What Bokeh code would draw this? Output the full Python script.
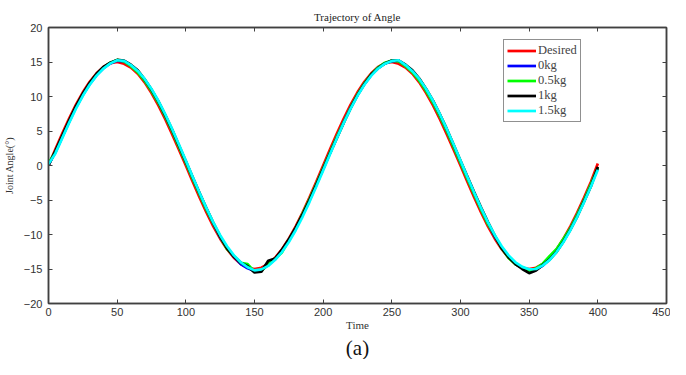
from bokeh.plotting import figure
from bokeh.models import (Range1d, LinearAxis, SingleIntervalTicker, Legend, LegendItem, Title)
from bokeh.embed import file_html
from bokeh.resources import INLINE

time = list(range(0, 401, 5))

desired = [0, 2.35, 4.64, 6.81, 8.82, 10.61, 12.14, 13.37, 14.27, 14.82,
           15.0, 14.75, 14.2, 13.3, 12.05, 10.5, 8.7, 6.7, 4.55, 2.3,
           0, -2.35, -4.64, -6.81, -8.82, -10.61, -12.14, -13.37, -14.27, -14.82,
           -15.0, -14.82, -14.27, -13.37, -12.14, -10.61, -8.82, -6.81, -4.64, -2.35,
           0,
           2.35, 4.64, 6.81, 8.82, 10.61, 12.14, 13.37, 14.27, 14.82, 15.0,
           14.75, 14.2, 13.3, 12.05, 10.5, 8.7, 6.7, 4.55, 2.3, 0,
           -2.35, -4.64, -6.81, -8.82, -10.61, -12.14, -13.37, -14.27, -14.82, -15.0,
           -14.82, -14.27, -13.37, -12.14, -10.61, -8.82, -6.81, -4.64, -2.35, 0.3]

load_0kg = [0.1, 1.9, 4.1, 6.3, 8.4, 10.2, 11.8, 13.1, 14.1, 14.8,
            15.2, 15.1, 14.5, 13.6, 12.4, 10.9, 9.2, 7.2, 5.1, 2.8,
            0.5, -1.8, -4.1, -6.3, -8.4, -10.4, -11.9, -13.2, -14.3, -14.9,
            -15.3, -15.2, -14.4, -13.6, -12.4, -10.9, -9.2, -7.2, -5.1, -2.8,
            -0.5,
            1.8, 4.1, 6.3, 8.4, 10.2, 11.8, 13.1, 14.1, 14.8, 15.1,
            15.2, 14.5, 13.6, 12.4, 10.9, 9.2, 7.2, 5.1, 2.8, 0.5,
            -1.8, -4.1, -6.3, -8.4, -10.3, -11.9, -13.2, -14.2, -14.8, -15.2,
            -15.1, -14.5, -13.6, -12.4, -10.9, -9.2, -7.2, -5.1, -2.8, -0.4]

load_05kg = [0.3, 2.0, 4.2, 6.4, 8.5, 10.3, 11.9, 13.2, 14.2, 14.9,
             15.3, 15.1, 14.4, 13.5, 12.3, 10.8, 9.1, 7.1, 5.0, 2.7,
             0.4, -1.9, -4.2, -6.4, -8.4, -10.3, -12.1, -13.1, -14.1, -14.3,
             -15.4, -15.3, -14.3, -13.5, -12.6, -10.8, -9.1, -7.0, -4.9, -2.7,
             -0.4,
             1.9, 4.2, 6.3, 8.4, 10.3, 11.9, 13.2, 14.2, 14.9, 15.2,
             15.1, 14.4, 13.5, 12.3, 10.8, 9.1, 7.1, 5.0, 2.7, 0.4,
             -1.9, -4.2, -6.4, -8.5, -10.2, -12.0, -13.4, -14.3, -14.8, -15.4,
             -14.9, -14.2, -13.1, -12.1, -10.6, -9.1, -7.1, -5.0, -2.7, -0.3]

load_1kg = [0.0, 2.1, 4.3, 6.5, 8.6, 10.4, 12.0, 13.3, 14.3, 14.9,
            15.3, 15.2, 14.6, 13.8, 12.5, 11.0, 9.3, 7.3, 5.2, 2.9,
            0.6, -1.7, -4.0, -6.2, -8.3, -10.3, -12.0, -13.2, -14.1, -14.6,
            -15.5, -15.4, -13.8, -13.5, -12.2, -10.7, -9.0, -7.1, -5.0, -2.8,
            -0.5,
            1.8, 4.0, 6.2, 8.3, 10.2, 11.8, 13.2, 14.1, 14.8, 15.2,
            15.2, 14.6, 13.8, 12.6, 11.1, 9.4, 7.4, 5.3, 3.0, 0.7,
            -1.6, -3.9, -6.1, -8.2, -10.2, -12.0, -13.3, -14.3, -15.0, -15.6,
            -15.2, -14.4, -13.6, -12.5, -11.0, -9.3, -7.4, -5.2, -3.0, -0.2]

load_15kg = [0.2, 1.75, 3.96, 6.17, 8.24, 10.10, 11.71, 13.03, 14.05, 14.80,
             15.25, 15.15, 14.55, 13.70, 12.55, 11.10, 9.38, 7.43, 5.30, 3.04,
             0.71, -1.65, -3.96, -6.17, -8.24, -10.10, -11.71, -13.03, -14.03, -14.75,
             -15.20, -15.05, -14.55, -13.67, -12.54, -11.09, -9.38, -7.43, -5.30, -3.04,
             -0.71,
             1.65, 3.96, 6.17, 8.24, 10.10, 11.71, 13.03, 14.05, 14.75, 15.15,
             15.25, 14.55, 13.67, 12.54, 11.09, 9.38, 7.43, 5.30, 3.04, 0.71,
             -1.65, -3.96, -6.17, -8.24, -10.10, -11.71, -13.03, -14.03, -14.69, -15.05,
             -15.0, -14.47, -13.67, -12.54, -11.09, -9.38, -7.43, -5.30, -3.04, -0.6]

labels = ["Desired", "0kg", "0.5kg", "1kg", "1.5kg"]
series = [desired, load_0kg, load_05kg, load_1kg, load_15kg]
colors = ["#ff0000", "#0000ff", "#00ff00", "#000000", "#00ffff"]

SERIF = "Liberation Serif"
SANS = "Liberation Sans"
AX = "#404040"

p = figure(width=670, height=359, output_backend="svg", toolbar_location=None,
           x_range=Range1d(0, 450), y_range=Range1d(-20, 20),
           min_border_left=44, min_border_right=4, min_border_top=27, min_border_bottom=40)
p.title.text = "Trajectory of Angle"
p.title.align = "center"
p.title.text_font = SERIF
p.title.text_font_style = "normal"
p.title.text_font_size = "11px"
p.title.text_color = "#222222"
p.title.standoff = 2

p.xgrid.visible = False
p.ygrid.visible = False
p.outline_line_color = AX
p.outline_line_width = 1.5
p.background_fill_color = "white"
p.border_fill_color = "white"

renderers = []
for ys, c in zip(series, colors):
    r = p.line(time, ys, line_color=c, line_width=2.7)
    renderers.append(r)

xt = SingleIntervalTicker(interval=50)
yt = SingleIntervalTicker(interval=5)
p.xaxis.ticker = xt
p.yaxis.ticker = yt
for ax in [p.xaxis[0], p.yaxis[0]]:
    ax.major_tick_in = 4
    ax.major_tick_out = 0
    ax.minor_tick_line_color = None
    ax.axis_line_color = AX
    ax.axis_line_width = 1.5
    ax.major_tick_line_color = AX
    ax.major_label_text_font = SANS
    ax.major_label_text_font_size = "11px"
    ax.major_label_text_color = "#333333"
    ax.major_label_standoff = 0
    ax.axis_label_text_font = SERIF
    ax.axis_label_text_font_style = "normal"
    ax.axis_label_text_color = "#333333"
p.xaxis.axis_label = "Time"
p.xaxis.axis_label_text_font_size = "11px"
p.xaxis.axis_label_standoff = 0
p.yaxis.major_label_standoff = 2
p.yaxis.axis_label = "Joint Angle(°)"
p.yaxis.axis_label_text_font_size = "10px"
p.yaxis.axis_label_standoff = 6

for side, tk in [("right", yt), ("above", xt)]:
    a = LinearAxis(ticker=tk)
    a.major_tick_in = 4
    a.major_tick_out = 0
    a.major_label_standoff = 0
    a.minor_tick_line_color = None
    a.major_label_text_font_size = "0px"
    a.major_label_text_color = None
    a.axis_line_color = AX
    a.axis_line_width = 1.5
    a.major_tick_line_color = AX
    p.add_layout(a, side)

legend = Legend(items=[LegendItem(label=l, renderers=[r]) for l, r in zip(labels, renderers)],
                location=(455, 181))
legend.label_text_font = SERIF
legend.label_text_font_size = "12.5px"
legend.glyph_width = 29
legend.glyph_height = 15
legend.label_height = 15
legend.label_standoff = 2
legend.spacing = 0
legend.padding = 3
legend.margin = 0
legend.border_line_color = "#222222"
legend.border_line_width = 1
legend.background_fill_alpha = 1
p.add_layout(legend, "center")

p.add_layout(Title(text="(a)", align="center", text_font=SERIF, text_font_size="21px",
                   text_font_style="normal", text_color="#111111", standoff=0, offset=0), "below")

open("out.html", "w").write(file_html(p, INLINE))
